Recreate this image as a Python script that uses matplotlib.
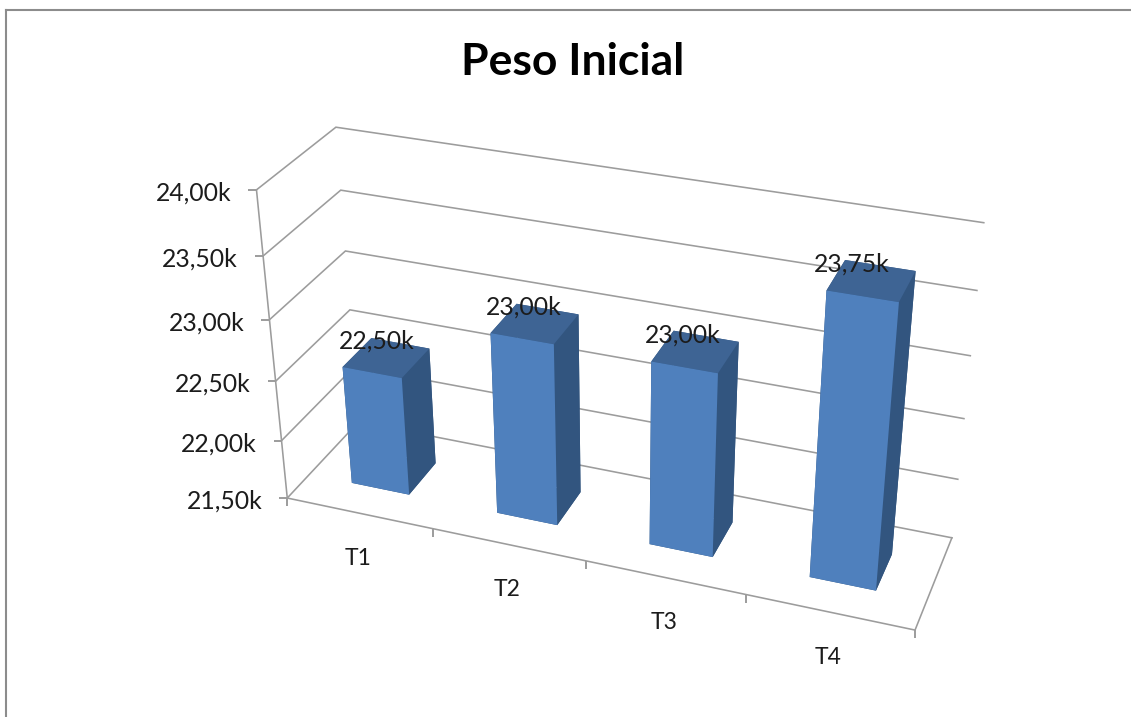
import numpy as np
import matplotlib
matplotlib.use("Agg")
import matplotlib.pyplot as plt
from matplotlib.lines import Line2D

# ---- chart data ----
title = "Peso Inicial"
categories = ["T1", "T2", "T3", "T4"]
values = [22.50, 23.00, 23.00, 23.75]
value_labels = ["22,50k", "23,00k", "23,00k", "23,75k"]
y_ticks = [21.5, 22.0, 22.5, 23.0, 23.5, 24.0]
y_tick_labels = ["21,50k", "22,00k", "22,50k", "23,00k", "23,50k", "24,00k"]

# ---- camera calibration: (category axis, depth axis, value axis) -> reference pixel ----
cal_world = [
    (0,0,24),(0,1,24),(4,1,24),
    (0,0,23.5),(0,1,23.5),(4,1,23.5),
    (0,0,23),(0,1,23),(4,1,23),
    (0,0,22.5),(0,1,22.5),(4,1,22.5),
    (0,0,22),(0,1,22),(4,1,22),
    (0,0,21.5),(0,1,21.5),(4,1,21.5),(4,0,21.5),
    (1,0,21.5),(2,0,21.5),(3,0,21.5),
    (.3,.3,21.5),(.7,.3,21.5),(.3,.3,22.5),(.7,.3,22.5),(.7,.7,22.5),(.7,.7,21.5),
    (1.3,.3,21.5),(1.7,.3,21.5),(1.3,.3,23),(1.7,.3,23),(1.7,.7,23),(1.7,.7,21.5),
    (2.3,.3,21.5),(2.7,.3,21.5),(2.3,.3,23),(2.7,.3,23),(2.7,.7,23),(2.7,.7,21.5),
    (3.3,.3,21.5),(3.7,.3,21.5),(3.3,.3,23.75),(3.7,.3,23.75),(3.7,.7,23.75),(3.7,.7,21.5),
]
cal_pixel = [
    (257,189),(336,127),(983,223),
    (263,256),(341,189),(977,290),
    (269,320),(345,250),(971,356),
    (275,381),(350,308),(965,417),
    (282,440),(355,370),(958,478),
    (288,497),(358,428),(952,537),(915,632),
    (432,530),(586,562),(746,595),
    (352,482),(409,493),(343,367),(402,378),(429,348),(436,462),
    (497,512),(557,524),(491,333),(553,344),(578,315),(580,491),
    (650,544),(712,557),(652,362),(718,373),(738,343),(732,522),
    (810,577),(876,591),(827,292),(899,303),(915,272),(892,553),
]

V0 = 21.5
def fit_camera(world, pixel):
    rows = []
    for (x, d, v), (u, w) in zip(world, pixel):
        p = [x, d, v - V0, 1.0]
        u, w = u / 1000.0, w / 1000.0
        rows.append(p + [0, 0, 0, 0] + [-u * c for c in p])
        rows.append([0, 0, 0, 0] + p + [-w * c for c in p])
    _, _, vt = np.linalg.svd(np.array(rows))
    P = vt[-1].reshape(3, 4)
    pts = np.array([[x, d, v - V0, 1.0] for x, d, v in world])
    P = P / np.mean(P[2] @ pts.T)
    P[:2] *= 1000.0
    shift = np.array([[1, 0, 0, 0], [0, 1, 0, 0], [0, 0, 1, -V0], [0, 0, 0, 1.0]])
    return P @ shift

CAM = fit_camera(cal_world, cal_pixel)
W, H = 1131, 717

fig = plt.figure(figsize=(W / 100, H / 100), dpi=100, facecolor="white")
ax = fig.add_axes([0, 0, 1, 1], projection="3d")
ax.set_axis_off()
ax.computed_zorder = False
ax.patch.set_visible(False)

def camera_proj():
    A = ax.transData.inverted().get_matrix()
    u, v, w = CAM
    disp = np.vstack([u, H * w - v, w])
    a = A @ disp
    depth = np.array([-0.1, 1.0, -0.08, 0.1 * 2 - 0.5 + 0.08 * 22.75])
    return np.vstack([a[0], a[1], depth, w])

ax.get_proj = camera_proj

def to_pixel(x, d, v):
    h = CAM @ np.array([x, d, v, 1.0])
    return h[0] / h[2], h[1] / h[2]

GRID = "#9c9c9c"
LW = 1.15
TXT = "#1c1c1c"
FONT = "Lato"

def wall_line(points):
    pix = np.array([to_pixel(*p) for p in points])
    ln = Line2D(pix[:, 0] / W, 1 - pix[:, 1] / H, transform=fig.transFigure, color=GRID, lw=LW,
                solid_joinstyle="miter", zorder=-1)
    fig.add_artist(ln)

xmax = len(categories)
# gridlines on walls, floor outline, value axis (behind the bars)
for v in y_ticks:
    wall_line([(0, 0, v), (0, 1, v), (xmax, 1, v)])
wall_line([(0, 0, V0), (xmax, 0, V0), (xmax, 1, V0)])
wall_line([(0, 0, V0), (0, 0, y_ticks[-1])])
# tick marks
ax.plot([0] * len(y_ticks), [0] * len(y_ticks), y_ticks, ls="none", marker=[(-1, 0), (0, 0)],
        ms=11.5, mew=1.4, mec=GRID, zorder=1, clip_on=False)
ax.plot(np.arange(xmax + 1), [0] * (xmax + 1), [V0] * (xmax + 1), ls="none", marker=[(0, -1), (0, 0)],
        ms=12, mew=1.4, mec=GRID, zorder=1, clip_on=False)

# bars
BW = 0.4
face_order = ["#32557f", "#3e6494", "#4f80bd", "#32557f", "#32557f", "#32557f"]  # -Z,+Z,-Y,+Y,-X,+X
bars = ax.bar3d(np.arange(xmax) + 0.5 - BW / 2, [0.5 - BW / 2] * xmax, [V0] * xmax,
                BW, BW, np.array(values) - V0, color=face_order * xmax, shade=False,
                edgecolor="none", linewidth=0, zorder=2)

def label(x, d, v, s, dx, dy, size, **kw):
    px, py = to_pixel(x, d, v)
    fig.text((px + dx) / W, 1 - (py + dy) / H, s, va="center", fontsize=size, family=FONT, color=TXT,
             zorder=5, **kw)

for v, s in zip(y_ticks, y_tick_labels):
    label(0, 0, v, s, -25, 3, 17.8, ha="right")
for i, s in enumerate(categories):
    label(i + 0.5, 0, V0, s, -1, 45, 16.5, ha="center")
value_label_shift = [-10, -11, -13, -20]
for i, (val, s) in enumerate(zip(values, value_labels)):
    label(i + 0.5, 0.5, val, s, value_label_shift[i], -17, 17.8, ha="center")

fig.text(573 / W, 1 - 62 / H, title, ha="center", va="center", fontsize=32, fontweight="bold",
         family=FONT, color="black")

# chart-area border (top and left edges visible in the crop)
for xs, ys in (([5.5, 5.5], [717, 9.5]), ([5.5, 1131], [9.5, 9.5])):
    fig.add_artist(Line2D(np.array(xs) / W, 1 - np.array(ys) / H, transform=fig.transFigure,
                          color="#8c8c8c", lw=1.5))

fig.savefig("out.png", dpi=100, facecolor="white")
